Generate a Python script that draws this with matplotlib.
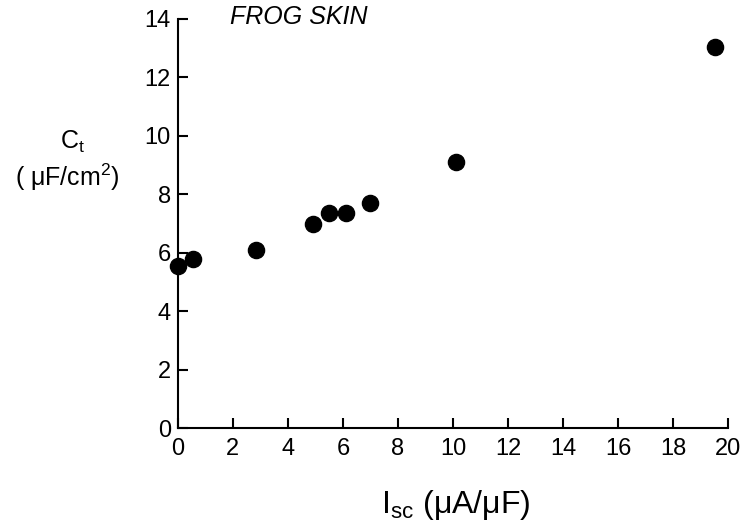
import matplotlib.pyplot as plt

# current vs capacitance, frog skin
isc = [0.0, 0.55, 2.85, 4.9, 5.5, 6.1, 7.0, 10.1, 19.5]
ct = [5.56, 5.8, 6.1, 7.0, 7.35, 7.35, 7.7, 9.1, 13.05]

xticks = [0, 2, 4, 6, 8, 10, 12, 14, 16, 18, 20]
yticks = [0, 2, 4, 6, 8, 10, 12, 14]

plt.rcParams['font.family'] = ['Liberation Sans', 'DejaVu Sans']
plt.rcParams['mathtext.fontset'] = 'custom'
plt.rcParams['mathtext.rm'] = 'Liberation Sans'

fig = plt.figure(figsize=(7.47, 5.26), dpi=100)
ax = fig.add_axes([0.238, 0.186, 0.737, 0.778])

ax.scatter(isc, ct, s=135, color='black', zorder=3, clip_on=False)

ax.set_xlim(0, 20)
ax.set_ylim(0, 14)
ax.set_xticks(xticks)
ax.set_yticks(yticks)
ax.spines['top'].set_visible(False)
ax.spines['right'].set_visible(False)
for s in ['left', 'bottom']:
    ax.spines[s].set_linewidth(1.5)
ax.tick_params(direction='in', length=7, width=1.5, labelsize=17)
ax.tick_params(axis='x', pad=7)
ax.tick_params(axis='y', pad=5)

ax.text(1.9, 14.05, 'FROG SKIN', fontsize=18, style='italic', va='center', ha='left')

fig.text(0.097, 0.73, 'C$_\\mathrm{t}$', fontsize=18, ha='center', va='center')
fig.text(0.09, 0.662, '( μF/cm$^2$)', fontsize=18, ha='center', va='center')
fig.text(0.61, 0.025, 'I$_{\\mathrm{sc}}$ (μA/μF)', fontsize=23, ha='center', va='baseline')

fig.savefig('out.png', dpi=100)
